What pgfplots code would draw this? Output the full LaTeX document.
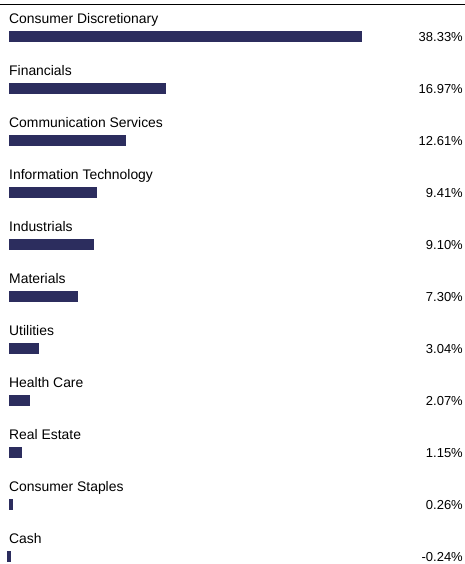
\documentclass[border=0pt]{standalone}
\usepackage{fontspec}
\setmainfont{Liberation Sans}
\usepackage{pgfplots}
\usepackage{pgfplotstable}
\pgfplotsset{compat=1.18}
\definecolor{navy}{RGB}{44,45,94}
\pgfplotstableread[col sep=comma]{
idx,val,name
0,38.33,Consumer Discretionary
1,16.97,Financials
2,12.61,Communication Services
3,9.41,Information Technology
4,9.10,Industrials
5,7.30,Materials
6,3.04,Utilities
7,2.07,Health Care
8,1.15,Real Estate
9,0.26,Consumer Staples
10,-0.24,Cash
}\data
\begin{document}
\begin{tikzpicture}
\useasboundingbox (0,4pt) rectangle (465pt,-560pt);
\begin{axis}[at={(0,0)}, anchor=north west, width=465pt, height=560pt, scale only axis,
  xmin=-1.092, xmax=49.69, ymin=-0.625, ymax=10.144, y dir=reverse,
  axis lines=none, clip=false, font=\fontsize{13}{15}\selectfont]
\addplot[xbar, bar width=9pt, fill=navy, draw=navy, line width=2pt, bar shift=0pt] table[x=val,y=idx]{\data};
\addplot[only marks, mark=none, nodes near coords, point meta=explicit symbolic,
  nodes near coords style={anchor=base west, yshift=13pt, xshift=-1pt, inner sep=0pt, font=\fontsize{13.9}{16}\selectfont}]
  table[x expr=0, y=idx, meta=name]{\data};
\addplot[only marks, mark=none, point meta=explicit,
  nodes near coords={\pgfmathprintnumber[assume math mode=true,fixed,fixed zerofill,precision=2]{\pgfplotspointmeta}\%},
  nodes near coords style={anchor=base east, yshift=-5pt, inner sep=0pt, font=\fontsize{13}{15}\selectfont}]
  table[x expr=49.47, y=idx, meta=val]{\data};
\draw[line width=1pt] (axis cs:-1.092,-0.625) -- (axis cs:49.69,-0.625);
\end{axis}
\end{tikzpicture}
\end{document}
